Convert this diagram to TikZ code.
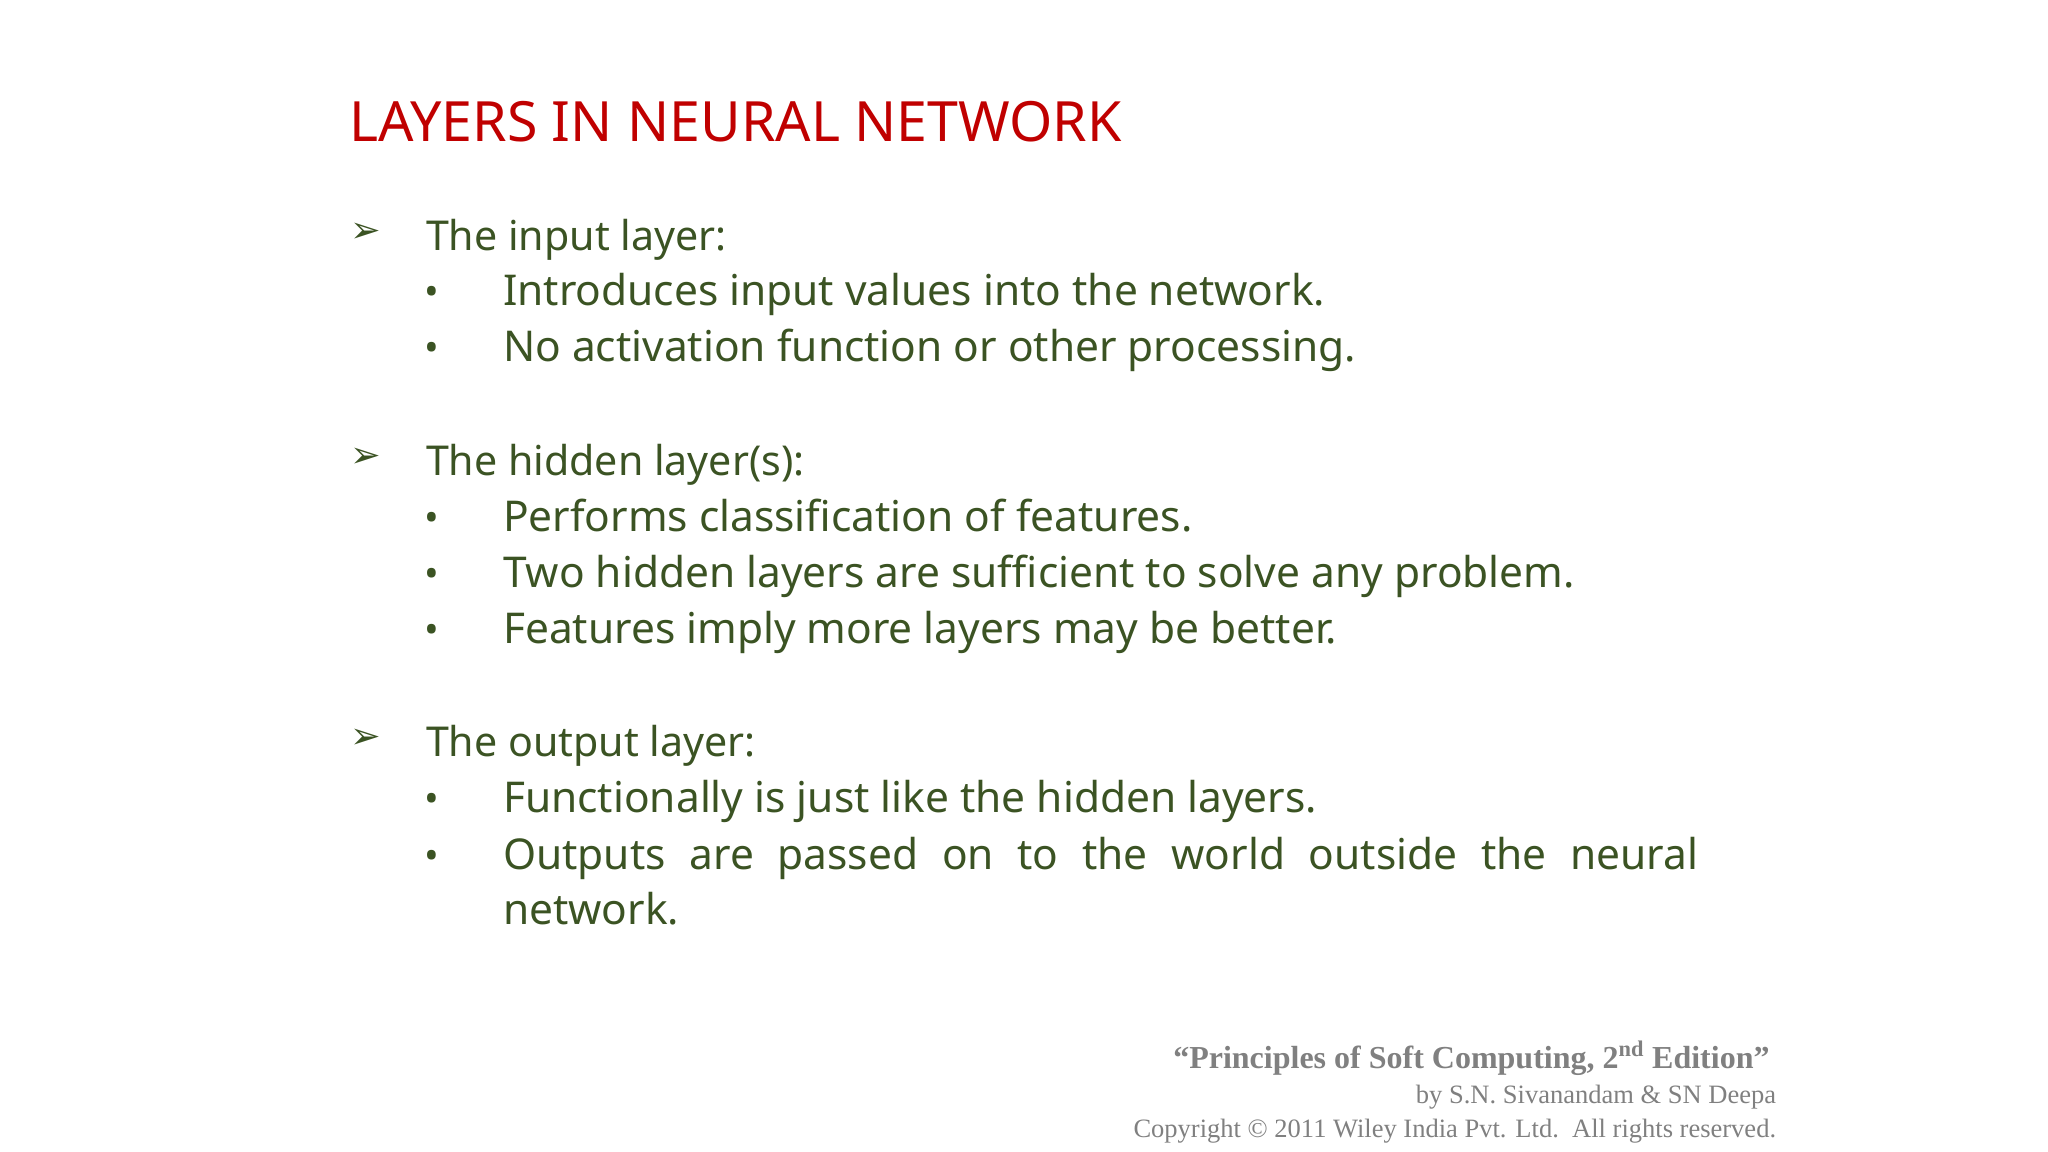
\documentclass[tikz,border=0pt]{standalone}
\usepackage{fontspec}
\setmainfont{Noto Sans}
\newfontfamily\symf{DejaVu Sans}
\newfontfamily\footf{Liberation Serif}
\definecolor{tred}{HTML}{C00000}
\definecolor{tgreen}{HTML}{3B5323}
\definecolor{fgrey}{HTML}{808080}
\begin{document}
\begin{tikzpicture}[x=1pt,y=-1pt,
  t/.style={anchor=base west,inner sep=0pt,text=tgreen,font=\fontsize{32.5}{38}\selectfont},
  hd/.style={t,font=\fontsize{31.5}{38}\selectfont\bfseries},
  ar/.style={anchor=base west,inner sep=0pt,text=tgreen,font=\symf\fontsize{28}{32}\selectfont},
  bl/.style={anchor=base west,inner sep=0pt,text=tgreen,font=\fontsize{30}{34}\selectfont},
  ft/.style={anchor=base east,inner sep=0pt,text=fgrey,font=\footf\fontsize{20.3}{24}\selectfont}]
\useasboundingbox (0,0) rectangle (1568,882);
\node[anchor=base west,inner sep=0pt,text=tred,font=\fontsize{42.5}{50}\selectfont\bfseries] (title) at (267,108) {LAYERS IN NEURAL NETWORK};
% input
\node[ar] (a1) at (268,186) {➢};
\node[hd] (h1) at (326,192) {The input layer:};
\node[bl] (b11) at (325,234) {•}; \node[t] (l11) at (385,234) {Introduces input values into the network.};
\node[bl] (b12) at (325,277) {•}; \node[t] (l12) at (385,277) {No activation function or other processing.};
% hidden
\node[ar] (a2) at (268,358) {➢};
\node[hd] (h2) at (326,364) {The hidden layer(s):};
\node[bl] (b21) at (325,407) {•}; \node[t] (l21) at (385,407) {Performs classification of features.};
\node[bl] (b22) at (325,450) {•}; \node[t] (l22) at (385,450) {Two hidden layers are sufficient to solve any problem.};
\node[bl] (b23) at (325,493) {•}; \node[t] (l23) at (385,493) {Features imply more layers may be better.};
% output
\node[ar] (a3) at (268,573) {➢};
\node[hd] (h3) at (326,579) {The output layer:};
\node[bl] (b31) at (325,622) {•}; \node[t] (l31) at (385,622) {Functionally is just like the hidden layers.};
\node[bl] (b32) at (325,666) {•}; \node[t] (l32) at (385,666) {\makebox[915pt][s]{Outputs are passed on to the world outside the neural}};
\node[t] (l33) at (385,708) {network.};
% footer
\node[ft,font=\footf\bfseries\fontsize{24.5}{28}\selectfont] (f1) at (1355,818) {“Principles of Soft Computing, 2\textsuperscript{nd} Edition”};
\node[ft] (f2) at (1360,845) {by S.N. Sivanandam \& SN Deepa};
\node[ft] (f3) at (1360,871) {Copyright © 2011 Wiley India Pvt. Ltd.\ \ All rights reserved.};
\end{tikzpicture}
\end{document}
